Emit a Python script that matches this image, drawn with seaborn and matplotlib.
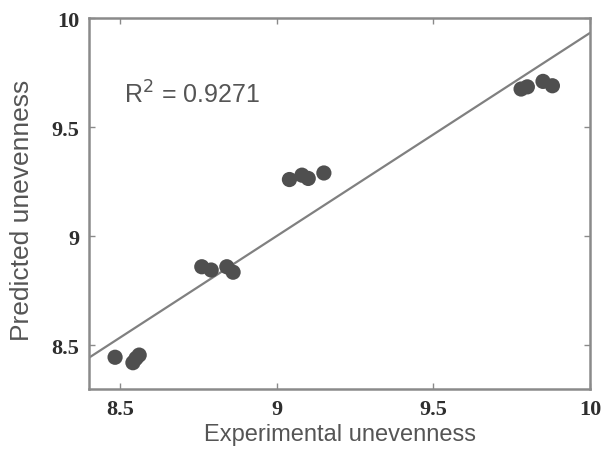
import numpy as np
import pandas as pd
import matplotlib
matplotlib.use("Agg")
import matplotlib.pyplot as plt
import seaborn as sns

# Experimental vs predicted unevenness
experimental = [8.483, 8.54, 8.55, 8.56,
                8.76, 8.79, 8.84, 8.86,
                9.04, 9.08, 9.10, 9.15,
                9.78, 9.80, 9.85, 9.88]
predicted = [8.445, 8.42, 8.44, 8.455,
             8.86, 8.845, 8.86, 8.835,
             9.26, 9.28, 9.265, 9.29,
             9.675, 9.685, 9.71, 9.69]
x_ticks = [8.5, 9, 9.5, 10]
y_ticks = [8.5, 9, 9.5, 10]
x_tick_labels = ["8.5", "9", "9.5", "10"]
y_tick_labels = ["8.5", "9", "9.5", "10"]
r2_text = "R$^2$ = 0.9271"

df = pd.DataFrame({"Experimental unevenness": experimental,
                   "Predicted unevenness": predicted})

sns.set_theme(style="white")
plt.rcParams["font.family"] = ["Liberation Sans", "DejaVu Sans"]

fig = plt.figure(figsize=(6.02, 4.56), dpi=100)
ax = fig.add_axes([0.148, 0.145, 0.832, 0.813])
ax.set_xlim(8.4, 10)
ax.set_ylim(8.3, 10)

spine_col = "#8a8a8a"
sns.regplot(data=df, x="Experimental unevenness", y="Predicted unevenness",
            ax=ax, ci=None, truncate=False,
            scatter_kws=dict(s=120, color="#4f4f4f", edgecolor="none", alpha=1, zorder=3),
            line_kws=dict(color="#808080", lw=1.6, zorder=2))

ax.set_xlim(8.4, 10)
ax.set_ylim(8.3, 10)
ax.set_xticks(x_ticks)
ax.set_xticklabels(x_tick_labels)
ax.set_yticks(y_ticks)
ax.set_yticklabels(y_tick_labels)

for lab in ax.get_xticklabels() + ax.get_yticklabels():
    lab.set_fontfamily("Liberation Serif")
    lab.set_fontweight("bold")
    lab.set_fontsize(16)
    lab.set_color("#2e2e2e")

ax.tick_params(direction="in", length=4, width=1, colors=spine_col,
               top=True, right=True, bottom=True, left=True,
               labelcolor="#2e2e2e", pad=7)
for s in ax.spines.values():
    s.set_color(spine_col)
    s.set_linewidth(1.8)

ax.set_xlabel("Experimental unevenness", fontsize=17, color="#555555", labelpad=3)
ax.set_ylabel("Predicted unevenness", fontsize=19, color="#555555")
ax.yaxis.set_label_coords(-0.11, 0.485)

ax.text(8.51, 9.65, r2_text, fontsize=18, color="#555555", va="center")

fig.savefig("out.png", dpi=100)
